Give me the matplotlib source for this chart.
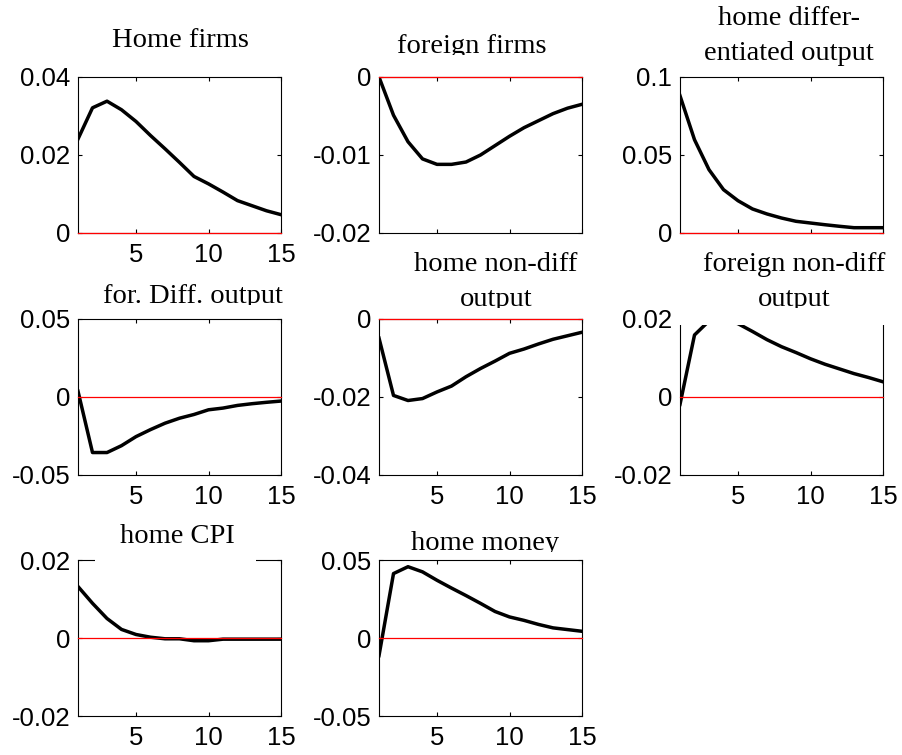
import matplotlib
matplotlib.use("Agg")
import matplotlib.pyplot as plt
from matplotlib.patches import Rectangle
from matplotlib.transforms import Bbox, TransformedBbox

# ---------------- data ----------------
periods = list(range(1, 16))

home_firms = [0.0241, 0.0321, 0.0338, 0.0316, 0.0286, 0.0250, 0.0216, 0.0181, 0.0145,
              0.0126, 0.0105, 0.0083, 0.0070, 0.0057, 0.0047]
foreign_firms = [0.0, -0.0049, -0.0083, -0.0105, -0.0112, -0.0112, -0.0109, -0.0100,
                 -0.0088, -0.0076, -0.0065, -0.0056, -0.0047, -0.0040, -0.0035]
home_diff_output = [0.088, 0.0598, 0.0406, 0.0278, 0.0207, 0.0154, 0.0122, 0.0096,
                    0.0075, 0.0064, 0.0053, 0.0043, 0.0034, 0.0034, 0.0034]
for_diff_output = [0.0037, -0.0356, -0.0356, -0.0312, -0.0254, -0.0209, -0.0168, -0.0136,
                   -0.0112, -0.0082, -0.0071, -0.0054, -0.0043, -0.0034, -0.0026]
home_nondiff_output = [-0.0049, -0.0196, -0.0209, -0.0204, -0.0187, -0.0172, -0.0148,
                       -0.0127, -0.0108, -0.0088, -0.0077, -0.0064, -0.0052, -0.0043, -0.0034]
foreign_nondiff_output = [-0.0019, 0.0159, 0.0195, 0.0200, 0.0188, 0.0168, 0.0147, 0.0129,
                          0.0114, 0.0098, 0.0084, 0.0072, 0.0060, 0.0050, 0.0039]
home_cpi = [0.0132, 0.0089, 0.0050, 0.0022, 0.0009, 0.0002, -0.0002, -0.0002, -0.0007,
            -0.0007, -0.0003, -0.0003, -0.0003, -0.0003, -0.0003]
home_money = [-0.0113, 0.0413, 0.0457, 0.0424, 0.0370, 0.0320, 0.0272, 0.0222, 0.0170,
              0.0135, 0.0113, 0.0087, 0.0065, 0.0054, 0.0043]

series = [home_firms, foreign_firms, home_diff_output, for_diff_output,
          home_nondiff_output, foreign_nondiff_output, home_cpi, home_money]

ylims = [(0, 0.04), (-0.02, 0), (0, 0.1), (-0.05, 0.05), (-0.04, 0), (-0.02, 0.02),
         (-0.02, 0.02), (-0.05, 0.05)]
yticks = [[0, 0.02, 0.04], [-0.02, -0.01, 0], [0, 0.05, 0.1], [-0.05, 0, 0.05],
          [-0.04, -0.02, 0], [-0.02, 0, 0.02], [-0.02, 0, 0.02], [-0.05, 0, 0.05]]
yticklabels = [["0", "0.02", "0.04"], ["-0.02", "-0.01", "0"], ["0", "0.05", "0.1"],
               ["-0.05", "0", "0.05"], ["-0.04", "-0.02", "0"], ["-0.02", "0", "0.02"],
               ["-0.02", "0", "0.02"], ["-0.05", "0", "0.05"]]
xticks = [5, 10, 15]
xticklabels = ["5", "10", "15"]
# panels whose x tick labels are hidden under the titles below them
hidden_xlabels = [1, 2]

# title lines per panel: (text, center x px, baseline y px, clip bottom y px or None)
titles = [
    [("Home firms", 180, 47, None)],
    [("foreign firms", 472, 53, 55)],
    [("home differ-", 789, 25, None), ("entiated output", 789, 60, None)],
    [("for. Diff. output", 193, 303, 305)],
    [("home non-diff", 496, 271, None), ("output", 496, 306, 308)],
    [("foreign non-diff", 794, 271, None), ("output", 794, 306, 308)],
    [("home CPI", 177, 543, None)],
    [("home money", 485, 550, 552)],
]

# ---------------- layout ----------------
W, H = 902, 755
fig = plt.figure(figsize=(W / 100, H / 100), dpi=100, facecolor="white")

col_left = [78, 379, 680]
row_top = [77, 319, 560]
ax_w, ax_h = 203, 156

TICK_FONT = "Liberation Sans"
TITLE_FONT = "Liberation Serif"

for i, y in enumerate(series):
    r, c = divmod(i, 3)
    l = col_left[c]
    t = row_top[r]
    ax = fig.add_axes([l / W, 1 - (t + ax_h) / H, ax_w / W, ax_h / H])
    ax.plot(periods, y, color="black", lw=2.5, zorder=2.2, solid_joinstyle="round")
    ax.axhline(0, color="red", lw=0.9, zorder=3, clip_on=False)
    ax.set_xlim(1, 15)
    ax.set_ylim(*ylims[i])
    ax.set_xticks(xticks)
    ax.set_xticklabels(xticklabels, fontfamily=TICK_FONT)
    ax.set_yticks(yticks[i])
    ax.set_yticklabels(yticklabels[i], fontfamily=TICK_FONT)
    ax.tick_params(axis="both", direction="in", top=True, right=True, length=3,
                   width=0.8, labelsize=18.5, color="black")
    ax.tick_params(axis="x", pad=7.5)
    ax.tick_params(axis="y", pad=5.5)
    if i in hidden_xlabels:
        ax.tick_params(axis="x", labelbottom=False)
    for sp in ax.spines.values():
        sp.set_linewidth(0.8)
        sp.set_color("black")


def fx(px):
    return px / W


def fy(py):
    return 1 - py / H


# white masks left by the original title boxes
for (x0, y0, x1, y1) in [(676, 290, 890, 325), (95, 548, 256, 565)]:
    rect = Rectangle((fx(x0), fy(y1)), fx(x1) - fx(x0), fy(y0) - fy(y1),
                     transform=fig.transFigure, facecolor="white", edgecolor="none",
                     zorder=5)
    fig.add_artist(rect)

for lines in titles:
    for (txt, cx, by, clip) in lines:
        t = fig.text(fx(cx), fy(by), txt, ha="center", va="baseline",
                     fontfamily=TITLE_FONT, fontsize=20.5, color="black", zorder=6)
        if clip is not None:
            bb = TransformedBbox(Bbox.from_extents(0, fy(clip), 1, 1), fig.transFigure)
            t.set_clip_box(bb)
            t.set_clip_on(True)

fig.savefig("out.png", dpi=100, facecolor="white")
